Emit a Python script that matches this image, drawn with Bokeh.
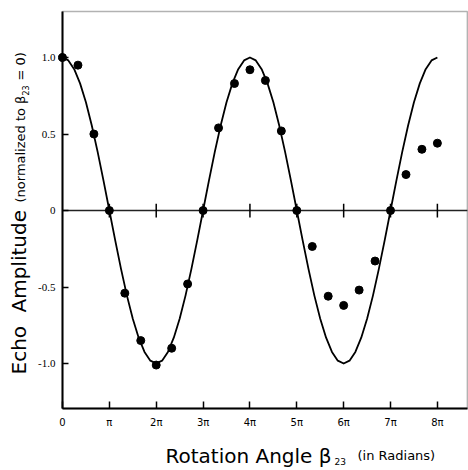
from bokeh.plotting import figure
from bokeh.models import Range1d, FixedTicker, Label, BoxAnnotation
from bokeh.embed import file_html
from bokeh.resources import INLINE
import math

# ---- data (x values in units of pi) ----
tick_pi = [0, 1, 2, 3, 4, 5, 6, 7, 8]
tick_labels = ["0", "π", "2π", "3π", "4π", "5π", "6π", "7π", "8π"]
y_ticks = [1.0, 0.5, 0.0, -0.5, -1.0]
y_tick_labels = ["1.0", "0.5", "0", "-0.5", "-1.0"]

beta_pi = [0, 0.33, 0.67, 1.0, 1.33, 1.67, 2.0, 2.33, 2.67, 3.0, 3.33, 3.67, 4.0,
           4.33, 4.67, 5.0, 5.33, 5.67, 6.0, 6.33, 6.67, 7.0, 7.33, 7.67, 8.0]
echo_amp = [1.0, 0.95, 0.50, 0.0, -0.54, -0.85, -1.01, -0.90, -0.48, 0.0, 0.54, 0.83, 0.92,
            0.85, 0.52, 0.0, -0.235, -0.56, -0.62, -0.52, -0.33, 0.0, 0.235, 0.40, 0.44]

curve_beta_pi = [0, 0.125, 0.25, 0.375, 0.5, 0.625, 0.75, 0.875,
                 1, 1.125, 1.25, 1.375, 1.5, 1.625, 1.75, 1.875,
                 2, 2.125, 2.25, 2.375, 2.5, 2.625, 2.75, 2.875,
                 3, 3.125, 3.25, 3.375, 3.5, 3.625, 3.75, 3.875,
                 4, 4.125, 4.25, 4.375, 4.5, 4.625, 4.75, 4.875,
                 5, 5.125, 5.25, 5.375, 5.5, 5.625, 5.75, 5.875,
                 6, 6.125, 6.25, 6.375, 6.5, 6.625, 6.75, 6.875,
                 7, 7.125, 7.25, 7.375, 7.5, 7.625, 7.75, 7.875, 8]
curve_amp = [1.0, 0.981, 0.924, 0.831, 0.707, 0.556, 0.383, 0.195,
             0.0, -0.195, -0.383, -0.556, -0.707, -0.831, -0.924, -0.981,
             -1.0, -0.981, -0.924, -0.831, -0.707, -0.556, -0.383, -0.195,
             0.0, 0.195, 0.383, 0.556, 0.707, 0.831, 0.924, 0.981,
             1.0, 0.981, 0.924, 0.831, 0.707, 0.556, 0.383, 0.195,
             0.0, -0.195, -0.383, -0.556, -0.707, -0.831, -0.924, -0.981,
             -1.0, -0.981, -0.924, -0.831, -0.707, -0.556, -0.383, -0.195,
             0.0, 0.195, 0.383, 0.556, 0.707, 0.831, 0.924, 0.981, 1.0]

# plotting box (data units) and full canvas extent (data units)
X_BOX = (0.0, 8.64)
Y_BOX = (-1.294, 1.30)
X_VIEW = (-1.323, 8.664)
Y_VIEW = (-1.699, 1.3725)

FONT = "DejaVu Sans"
NARROW = "Liberation Sans Narrow"
W, H = 468, 470

p = figure(width=W, height=H,
           x_range=Range1d(*X_VIEW), y_range=Range1d(*Y_VIEW),
           output_backend="svg", toolbar_location=None,
           min_border=0, min_border_left=0, min_border_right=0,
           min_border_top=0, min_border_bottom=0)
p.grid.visible = False
p.outline_line_color = None
p.background_fill_color = "white"
p.border_fill_color = "white"

# box (top and right edges of the plotting area)
p.add_layout(BoxAnnotation(left=X_BOX[0], right=X_BOX[1], bottom=Y_BOX[0], top=Y_BOX[1],
                           fill_alpha=0, line_color="black", line_width=1.5, level="underlay"))

xa = p.xaxis[0]
xa.fixed_location = Y_BOX[0]
xa.bounds = X_BOX
xa.ticker = FixedTicker(ticks=tick_pi)
xa.major_label_overrides = {t: l for t, l in zip(tick_pi, tick_labels)}
xa.major_tick_in = 7
xa.major_tick_out = 0
xa.minor_tick_in = 0
xa.minor_tick_out = 0
xa.axis_line_width = 2
xa.major_tick_line_width = 1.5
xa.major_label_standoff = 8
xa.major_label_text_font = FONT
xa.major_label_text_font_size = "10px"
xa.major_label_text_color = "black"

ya = p.yaxis[0]
ya.fixed_location = X_BOX[0]
ya.bounds = Y_BOX
ya.ticker = FixedTicker(ticks=y_ticks)
ya.major_label_overrides = {t: l for t, l in zip(y_ticks, y_tick_labels)}
ya.major_tick_in = 6
ya.major_tick_out = 0
ya.minor_tick_in = 0
ya.minor_tick_out = 0
ya.axis_line_width = 2
ya.major_tick_line_width = 1.5
ya.major_label_standoff = 7
ya.major_label_orientation = "horizontal"
ya.major_label_text_font = NARROW
ya.major_label_text_font_size = "11px"
ya.major_label_text_color = "black"

# zero line with small crossing ticks
p.segment(x0=[X_BOX[0]], y0=[0], x1=[X_BOX[1]], y1=[0], line_color="#222222", line_width=1.5)
zero_ticks = tick_pi[1:]
p.segment(x0=zero_ticks, y0=[-0.045] * len(zero_ticks), x1=zero_ticks, y1=[0.045] * len(zero_ticks),
          line_color="black", line_width=1.5)

# theoretical curve and measured points
p.line(curve_beta_pi, curve_amp, line_color="black", line_width=1.8, line_join="round")
p.scatter(beta_pi, echo_amp, size=8, fill_color="black", line_color="black")

# axis titles (canvas pixel positions, y measured from the top)
def lab(text, px, py, size, font=FONT, angle=0.0):
    p.add_layout(Label(x=px, y=H - py, x_units="screen", y_units="screen",
                       text=text, text_font=font, text_font_size=size, text_color="black",
                       angle=angle, text_align="left", text_baseline="alphabetic"))

lab("Rotation Angle β", 165, 455, "20px")
lab("23", 334, 461, "9px")
lab("(in Radians)", 357, 455, "13px")

lab("Echo", 18, 374, "20px", angle=math.pi / 2)
lab("Amplitude", 18, 312, "20px", angle=math.pi / 2)
lab("(normalized to β", 20, 202, "13px", angle=math.pi / 2)
lab("23", 25, 95, "8px", angle=math.pi / 2)
lab("= 0)", 20, 80, "13px", angle=math.pi / 2)

open("out.html", "w").write(file_html(p, INLINE))
